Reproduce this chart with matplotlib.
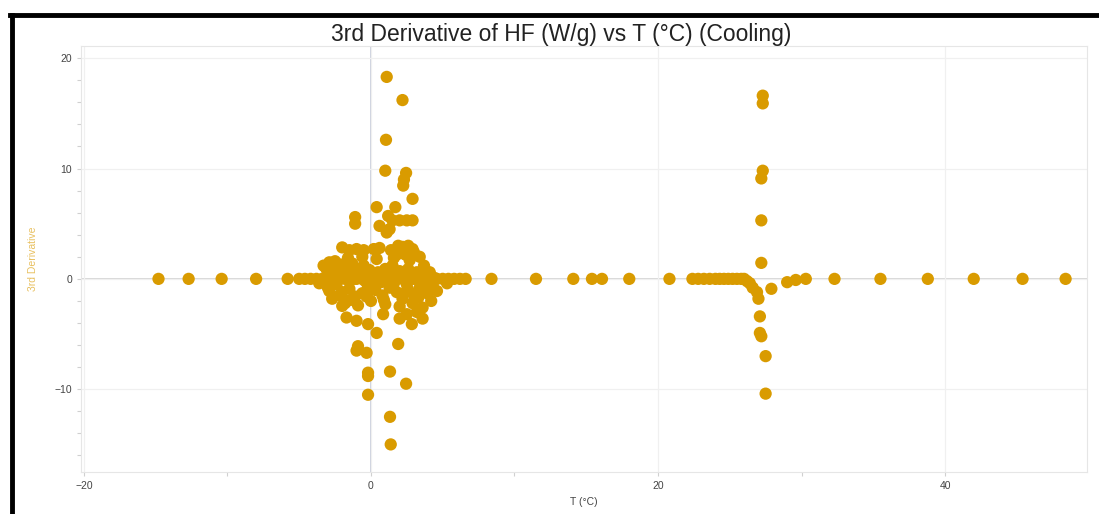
import matplotlib.pyplot as plt
from matplotlib.lines import Line2D
from matplotlib.ticker import MultipleLocator

plt.rcParams['font.family'] = ['Liberation Sans', 'DejaVu Sans']

# Temperature (°C) and 3rd derivative values
# points lying on the zero line, far left / far right
t_flat = [-14.8, -12.7, -10.4, -8.0, -5.8, -5.0, -4.6, -4.2, -3.8, -3.4, -3.0, -2.6,
          -2.2, -1.8, -1.4, -1.0, -0.6, -0.2, 0.2, 0.6, 1.0, 1.4, 1.8, 2.2, 2.6,
          3.0, 3.4, 3.8, 4.2, 4.6, 5.0, 5.4, 5.8, 6.2, 6.6, 8.4, 11.5, 14.1, 15.4,
          16.1, 18.0, 20.8, 22.4, 22.8, 23.2, 23.6, 24.0, 24.3, 24.6, 24.9, 25.2,
          25.5, 25.8, 26.0, 30.3, 32.3, 35.5, 38.8, 42.0, 45.4, 48.4]
d_flat = [0.0] * len(t_flat)

# main burst around 0 °C
t_burst = [1.1, 2.2, 1.05, 1.0, 2.45, 2.3, 2.25, 2.9, 0.4, 1.7, -1.1, -1.1, 1.2, 0.6,
           1.5, 2.0, 2.5, 2.9, 1.1, 1.3,
           -2.0, -1.5, -1.0, -0.5, 0.2, 0.6, 1.4, 1.9, 2.2, 2.6, 2.9, 3.0, 2.4, 1.8,
           -3.3, -2.9, -2.5, -2.1, -1.7, -1.3, -0.9, -0.5, -0.1, 0.5, 1.0, 1.5, 2.0,
           2.6, 3.2, 3.7, 4.1, -2.6, -1.9, -0.7, 0.3, 1.7, 2.8, 3.5,
           -3.6, -3.0, -2.4, -2.0, -1.5, -1.1, -0.6, -0.2, 0.3, 0.8, 1.3, 1.8, 2.2,
           2.6, 3.0, 3.4, 3.9, 4.3, 4.6, 5.3, -2.7, -1.8, -0.9, 0.0, 1.0, 2.0, 2.9,
           3.6, 4.2, -2.0,
           -1.7, -1.0, -0.2, 0.4, 0.85, 2.5, 2.85, 3.2, 3.6, 2.0, 1.9, -0.9, -0.3,
           -1.0, -0.2, -0.2, 1.33, 2.45, -0.2, 1.33, 1.38,
           # extra points filling the dense core
           -3.1, -2.7, -2.3, -1.9, -1.5, -1.2, -0.8, -0.4, 0.1, 0.7, 1.2, 1.6, 2.1,
           2.5, 3.1, 3.5, 3.9, -2.9, -2.2, -1.4, -0.3, 0.9, 2.3, 3.3, 4.0,
           -1.6, -0.6, 0.4, 1.6, 2.7, 3.4, -2.3, -1.2, 0.1, 1.2, 2.4, 3.8, 4.4]
d_burst = [18.3, 16.2, 12.6, 9.8, 9.6, 9.0, 8.45, 7.25, 6.5, 6.5, 5.6, 5.0, 5.7, 4.8,
           5.3, 5.3, 5.3, 5.3, 4.2, 4.5,
           2.85, 2.6, 2.7, 2.6, 2.7, 2.8, 2.6, 3.0, 2.9, 3.0, 2.7, 2.4, 2.2, 2.2,
           1.2, 1.5, 1.6, 1.3, 1.0, 1.4, 0.9, 1.2, 0.8, 0.6, 0.9, 1.2, 0.7,
           0.9, 0.6, 1.2, 0.6, 0.6, 0.4, 0.4, 0.3, 0.3, 0.3, 0.3,
           -0.4, -0.8, -0.5, -1.2, -0.9, -1.6, -1.3, -0.7, -1.0, -1.5, -0.8, -1.2, -1.8,
           -1.0, -1.5, -0.8, -1.3, -0.6, -1.1, -0.4, -1.8, -2.2, -2.4, -2.0, -2.3, -2.5, -2.2,
           -2.6, -2.0, -2.45,
           -3.5, -3.8, -4.1, -4.9, -3.2, -3.2, -4.1, -3.0, -3.6, -3.6, -5.9, -6.1, -6.7,
           -6.5, -8.5, -8.8, -8.4, -9.5, -10.5, -12.5, -15.0,
           0.9, 0.3, 0.8, 0.2, 0.7, 0.1, 0.5, -0.2, 0.4, -0.3, 0.5, -0.4, 0.2,
           -0.5, 0.1, -0.3, 0.2, -1.1, -1.5, -1.9, -1.6, -1.9, -1.3, -1.7, -0.9,
           1.9, 2.0, 1.8, 1.9, 1.7, 2.0, -0.1, 0.0, -0.1, -0.1, 0.0, -0.1, 0.1]

# second transition near 27 °C
t_peak = [26.2, 26.4, 26.6, 26.9, 27.9, 29.0, 29.6,
          27.3, 27.3, 27.3, 27.2, 27.2, 27.2, 27.0, 27.1, 27.1, 27.2, 27.5, 27.5]
d_peak = [-0.2, -0.4, -0.8, -1.2, -0.9, -0.3, -0.1,
          16.6, 15.9, 9.8, 9.1, 5.3, 1.45, -1.8, -3.4, -4.9, -5.2, -7.0, -10.4]

t_all = t_flat + t_burst + t_peak
d_all = d_flat + d_burst + d_peak

color = '#D99B00'

fig = plt.figure(figsize=(10.99, 5.14), dpi=100)
ax = fig.add_axes([0.0737, 0.0817, 0.9155, 0.8288])

ax.axhline(0, color='#cfcfcf', lw=1.2, zorder=1)
ax.axvline(0, color='#c4cad8', lw=1.2, zorder=1)
ax.scatter(t_all, d_all, s=78, color=color, edgecolors='none', zorder=3)

ax.set_xlim(-20.2, 49.9)
ax.set_ylim(-17.5, 21.1)
ax.xaxis.set_major_locator(MultipleLocator(20))
ax.yaxis.set_major_locator(MultipleLocator(10))
ax.yaxis.set_minor_locator(MultipleLocator(2))
ax.xaxis.set_minor_locator(MultipleLocator(10))
ax.grid(True, which='major', color='#f0f0f0', lw=0.9, zorder=0)
for s in ax.spines.values():
    s.set_color('#e6e6e6')
ax.tick_params(which='both', colors='#d0d0d0', labelcolor='#444444', labelsize=7.5,
               length=3, width=0.8)

ax.set_title('3rd Derivative of HF (W/g) vs T (°C) (Cooling)', fontsize=16.5,
             color='#222222', pad=3, x=0.477)
ax.set_xlabel('T (°C)', fontsize=7.5, color='#444444', labelpad=4)
ax.set_ylabel('3rd Derivative', fontsize=7.5, color='#E8C060', labelpad=12)

# black frame on top and left edges of the screenshot
fig.add_artist(Line2D([0.0091, 1.0], [0.9708, 0.9708], color='black', lw=3.5,
                      transform=fig.transFigure))
fig.add_artist(Line2D([0.0110, 0.0110], [0.0, 0.9708], color='black', lw=3.5,
                      transform=fig.transFigure))

fig.savefig('out.png', dpi=100)
